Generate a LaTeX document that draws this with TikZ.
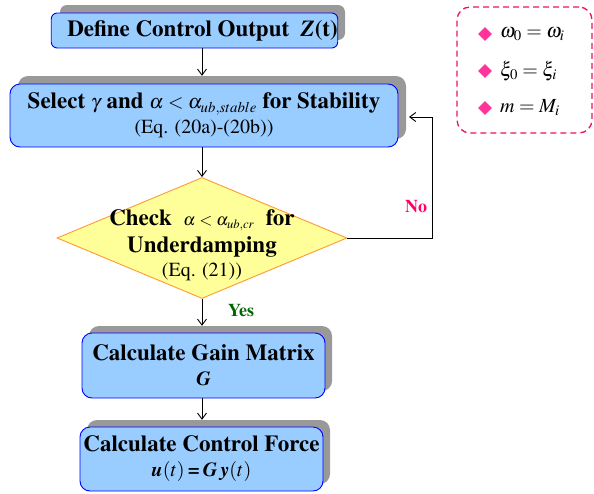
\documentclass[tikz,border=0pt]{standalone}
\usepackage[T1]{fontenc}
\usepackage{mathptmx}
\usetikzlibrary{shapes.geometric,arrows.meta}
\definecolor{boxfill}{HTML}{99CCFF}
\definecolor{boxdraw}{HTML}{0000FF}
\definecolor{shadowc}{HTML}{999999}
\definecolor{dfill}{HTML}{FFFF99}
\definecolor{ddraw}{HTML}{FF9933}
\definecolor{nocol}{HTML}{FF0066}
\definecolor{yescol}{HTML}{006600}
\definecolor{legcol}{HTML}{EE1166}
\definecolor{bulcol}{HTML}{FF3399}
\tikzset{
  shbox/.style={fill=shadowc, draw=none, inner sep=0pt},
  mainbox/.style={fill=boxfill, draw=boxdraw, line width=0.9pt, inner sep=0pt, align=center},
  arr/.style={-{Straight Barb[length=6pt,width=9pt]}, line width=0.9pt},
  bigtxt/.style={font=\fontsize{23}{27}\selectfont\bfseries},
  bul/.style={diamond, fill=bulcol, draw=none, minimum width=14pt, minimum height=14pt, inner sep=0pt},
  legtxt/.style={anchor=west, inner sep=0pt, font=\fontsize{20}{22}\selectfont}
}
\newcommand{\subl}[1]{{\fontsize{20}{23}\selectfont\mdseries #1}}
\begin{document}
\begin{tikzpicture}[x=1pt,y=-1pt]
\useasboundingbox (0,0) rectangle (594,493);
% shadows
\node[shbox, rounded corners=7pt, minimum width=285pt, minimum height=35pt] (s1) at (202.5,22.5) {};
\node[shbox, rounded corners=10pt, minimum width=388pt, minimum height=63pt] (s2) at (212,107.5) {};
\node[shbox, rounded corners=10pt, minimum width=243pt, minimum height=65pt] (s3) at (210.5,358.5) {};
\node[shbox, rounded corners=10pt, minimum width=243pt, minimum height=64pt] (s4) at (208.5,452) {};
% boxes
\node[mainbox, rounded corners=6pt, minimum width=285pt, minimum height=35pt, bigtxt] (b1) at (194.5,30.5)
  {\hspace*{16pt}Define Control Output \ \textit{Z}(t)};
\node[mainbox, rounded corners=10pt, minimum width=388pt, minimum height=63pt, bigtxt] (b2) at (204,115.5)
  {Select {\fontsize{20}{23}\selectfont$\gamma$} and {\fontsize{20}{23}\selectfont$\alpha<\alpha_{ub,stable}$} for Stability\\[-2pt] \subl{(Eq. (20a)-(20b))}};
\node[diamond, fill=dfill, draw=ddraw, line width=0.9pt, inner sep=0pt, minimum width=290pt, minimum height=121pt] (d) at (202,238) {};
\node[align=center, bigtxt, inner sep=0pt] (dt) at (202,245)
  {Check \ {\fontsize{17}{20}\selectfont$\alpha<\alpha_{ub,cr}$} \ for\\[0pt] Underdamping\\[-3pt] \subl{(Eq. (21))}};
\node[mainbox, rounded corners=10pt, minimum width=243pt, minimum height=65pt, bigtxt] (b3) at (203.5,365.5)
  {Calculate Gain Matrix\\[-2pt] {\fontsize{20}{23}\selectfont\textit{G}}};
\node[mainbox, rounded corners=10pt, minimum width=243pt, minimum height=64pt, bigtxt] (b4) at (201.5,459)
  {Calculate Control Force\\[-2pt] {\fontsize{20}{23}\selectfont\textit{u}$(t)$\,=\,\textit{G\,y}$(t)$}};
% connectors
\draw[arr] (b1.south -| d.north) -- (s2.north -| d.north);
\draw[arr] (b2.south -| d.north) -- (d.north);
\draw[arr] (d.south) -- (s3.north -| d.south);
\draw[arr] (b3.south -| d.south) -- (s4.north -| d.south);
\coordinate (c1) at (432,238);
\coordinate (c2) at (432,117);
\coordinate (c3) at (409,117);
\draw[arr] (d.east) -- (c1) -- (c2) -- (c3);
\node[font=\fontsize{18}{20}\selectfont\bfseries, text=nocol] (no) at (416,206) {No};
\node[font=\fontsize{18}{20}\selectfont\bfseries, text=yescol] (yes) at (241,310) {Yes};
% legend
\node[draw=legcol, dashed, dash pattern=on 6pt off 4pt, line width=1.3pt, rounded corners=13pt, minimum width=135pt, minimum height=126pt] (leg) at (524.5,70) {};
\node[bul] (k1) at (485,34) {};
\node[bul] (k2) at (485,71) {};
\node[bul] (k3) at (485,108) {};
\node[legtxt] (l1) at (500,34) {$\omega_0=\omega_i$};
\node[legtxt] (l2) at (500,71) {$\xi_0=\xi_i$};
\node[legtxt] (l3) at (500,108) {$m=M_i$};
\end{tikzpicture}
\end{document}
